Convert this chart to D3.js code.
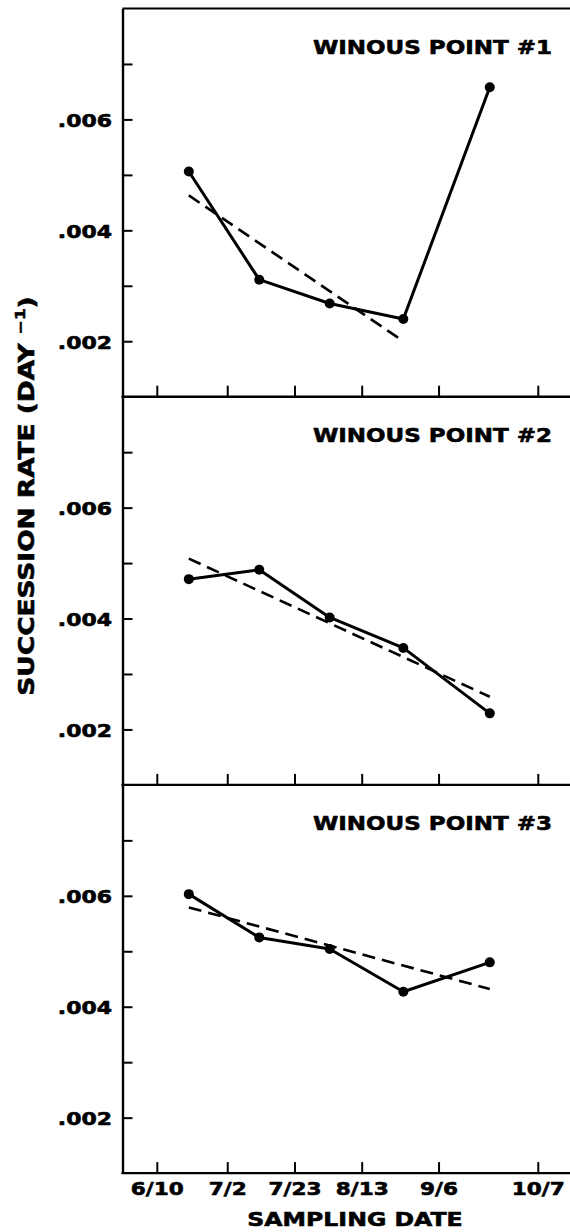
<!DOCTYPE html>
<html><head><meta charset="utf-8">
<script src="https://cdn.jsdelivr.net/npm/d3@7"></script>
<style>html,body{margin:0;padding:0;background:#fff;} svg{display:block;}</style>
</head><body>
<svg id="chart" width="570" height="1232"></svg>
<script>
// ---------------- data ----------------
const panelTitles = ["WINOUS POINT #1", "WINOUS POINT #2", "WINOUS POINT #3"];
const sampleDates = ["6/20", "7/12", "8/3", "8/26", "9/22"];
const rate1 = [0.00506, 0.00311, 0.00268, 0.00240, 0.00658];
const rate2 = [0.00471, 0.00488, 0.00402, 0.00347, 0.00229];
const rate3 = [0.00603, 0.00525, 0.00504, 0.00427, 0.00480];
const trendDates1 = ["6/20", "8/26"];
const trend1 = [0.00463, 0.00200];
const trendDates2 = ["6/20", "9/22"];
const trend2 = [0.00508, 0.00259];
const trendDates3 = ["6/20", "9/22"];
const trend3 = [0.00579, 0.00432];
const xTickLabels = ["6/10", "7/2", "7/23", "8/13", "9/6", "10/7"];
const yMajorTicks = [0.002, 0.004, 0.006];
const yMinorTicks = [0.003, 0.005, 0.007];
const yDomain = [0.001, 0.008];
const xAxisTitle = "SAMPLING DATE";
const yAxisTitle = "SUCCESSION RATE (DAY";
const yAxisSup = "\u22121";

// ---------------- layout ----------------
const W = 570, H = 1232;
const left = 122.5, right = 572;
const top0 = 8.5, panelH = 388.2;
const FONT = "'DejaVu Sans', sans-serif";
const parseD = s => { const [m, d] = s.split("/").map(Number); return new Date(1981, m - 1, d); };

const svg = d3.select("#chart");
svg.append("rect").attr("width", W).attr("height", H).attr("fill", "#fff");

const heavy = sel => sel.attr("font-family", FONT).attr("font-weight", "bold").attr("fill", "#000")
  .attr("stroke", "#000").attr("stroke-width", 0.6).attr("paint-order", "stroke");

const x = d3.scaleTime()
  .domain([parseD(xTickLabels[0]), parseD(xTickLabels[xTickLabels.length - 1])])
  .range([156.8, 537.8]);

const panels = [
  { title: panelTitles[0], rate: rate1, tDates: trendDates1, trend: trend1 },
  { title: panelTitles[1], rate: rate2, tDates: trendDates2, trend: trend2 },
  { title: panelTitles[2], rate: rate3, tDates: trendDates3, trend: trend3 }
];

const yFmt = d => d3.format(".3f")(d).replace(/^0/, "");

panels.forEach((p, i) => {
  const pt = top0 + i * panelH, pb = pt + panelH;
  const y = d3.scaleLinear().domain(yDomain).range([pb, pt]);
  const g = svg.append("g");

  if (i === 0) {
    g.append("line").attr("x1", left).attr("x2", right).attr("y1", pt).attr("y2", pt)
      .attr("stroke", "#000").attr("stroke-width", 2.2);
  }
  g.append("line").attr("x1", left - 1).attr("x2", right).attr("y1", pb).attr("y2", pb)
    .attr("stroke", "#000").attr("stroke-width", 2.4);

  // x axis ticks (inward)
  const xa = d3.axisBottom(x)
    .tickValues(xTickLabels.map(parseD))
    .tickSize(-11).tickSizeOuter(0).tickPadding(9)
    .tickFormat((d, k) => i === 2 ? xTickLabels[k] : "");
  const gx = g.append("g").attr("transform", `translate(0,${pb})`).call(xa);
  gx.select(".domain").remove();
  gx.selectAll("line").attr("stroke", "#000").attr("stroke-width", 2);
  gx.selectAll("text").call(heavy).attr("font-size", 18).attr("transform", "scale(1.2,1)");

  // y axis (inward ticks)
  const ya = d3.axisLeft(y)
    .tickValues(yMajorTicks.concat(yMinorTicks))
    .tickSize(-10).tickSizeOuter(0).tickPadding(9)
    .tickFormat(d => yMajorTicks.includes(d) ? yFmt(d) : "");
  const gy = g.append("g").attr("transform", `translate(${left},0)`).call(ya);
  gy.select(".domain").attr("stroke", "#000").attr("stroke-width", 2.4);
  gy.selectAll(".tick line").attr("stroke", "#000").attr("stroke-width", 2);
  gy.selectAll("text").attr("x", null).call(heavy).attr("font-size", 18)
    .attr("transform", "translate(-10.5,1) scale(1.22,1)");

  // title
  g.append("text").attr("transform", `translate(552,${pt + 45.5}) scale(1.15,1)`)
    .attr("text-anchor", "end").call(heavy).attr("font-size", 20).text(p.title);

  // trend line (dashed)
  const tdata = p.tDates.map((d, k) => ({ d: parseD(d), v: p.trend[k] }));
  g.append("path").datum(tdata)
    .attr("d", d3.line().x(d => x(d.d)).y(d => y(d.v)))
    .attr("fill", "none").attr("stroke", "#000").attr("stroke-width", 2.6)
    .attr("stroke-dasharray", "13,7");

  // data line
  const data = sampleDates.map((d, k) => ({ d: parseD(d), v: p.rate[k] }));
  g.append("path").datum(data)
    .attr("d", d3.line().x(d => x(d.d)).y(d => y(d.v)))
    .attr("fill", "none").attr("stroke", "#000").attr("stroke-width", 3)
    .attr("stroke-linejoin", "round");
  g.selectAll("circle").data(data).enter().append("circle")
    .attr("cx", d => x(d.d)).attr("cy", d => y(d.v)).attr("r", 5).attr("fill", "#000");
});

// x axis title
svg.append("text").attr("transform", "translate(355,1226) scale(1.18,1)")
  .attr("text-anchor", "middle").call(heavy).attr("font-size", 20).text(xAxisTitle);

// y axis title
const yt = svg.append("text").attr("transform", "translate(34,496) rotate(-90) scale(1.2,1)")
  .attr("text-anchor", "middle").call(heavy).attr("font-size", 22);
yt.append("tspan").text(yAxisTitle + " ");
yt.append("tspan").attr("font-size", 14).attr("dy", -9).text(yAxisSup);
yt.append("tspan").attr("dy", 9).text(")");
</script>
</body></html>
